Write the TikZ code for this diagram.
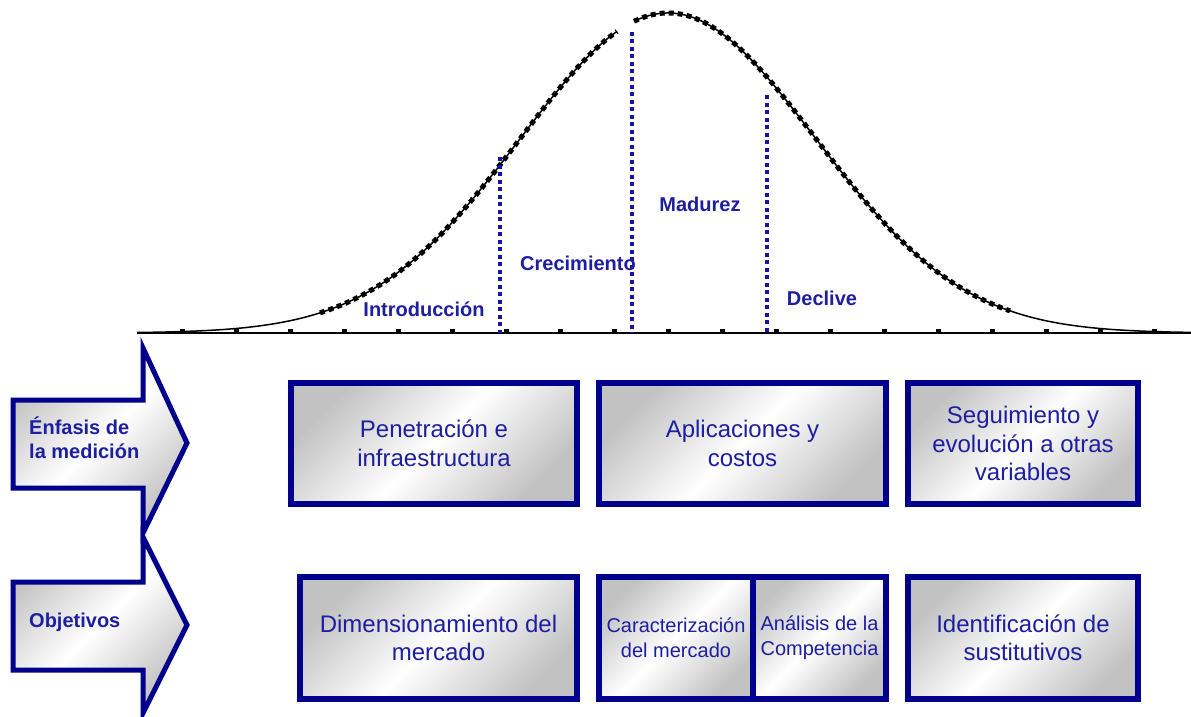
\documentclass[tikz,border=0pt]{standalone}
\usepackage{fontspec}
\setmainfont{Liberation Sans}
\usepackage{tikz}
\definecolor{navy}{RGB}{0,0,140}
\definecolor{txtblue}{RGB}{30,30,160}
\definecolor{dotblue}{RGB}{20,20,165}

\begin{document}
\begin{tikzpicture}[x=1pt,y=-1pt,
        declare function={bell(\x)=333-320*exp(-0.5*((\x-668)/148)^2);},
        curve/.style={black,line width=1.5},
        curvemarks/.style={black,line width=5,dash pattern=on 5pt off 4pt},
        phaseline/.style={dotblue,line width=3.5,dash pattern=on 4pt off 3.5pt},
        phase/.style={anchor=base,text=txtblue,font=\fontsize{20}{23}\selectfont\bfseries},
        shadefill/.style={top color=black!24,bottom color=black!24,middle color=white,shading angle=45},
        box/.style={draw=navy,line width=6,shadefill,text=txtblue,align=center,inner sep=0,
            font=\fontsize{24}{28.5}\selectfont},
        smallbox/.style={box,font=\fontsize{20}{25}\selectfont},
        arrowbox/.style={draw=navy,line width=5,line join=miter,shadefill},
        rowlabel/.style={anchor=base west,text=txtblue,align=left,inner sep=0,
            font=\fontsize{20}{23.5}\selectfont\bfseries}]
        \useasboundingbox (0,0) rectangle (1191,717);

        % life cycle curve
        \coordinate (o) at (137,333);
        \coordinate (xend) at (1191,333);
        \draw [black,line width=2] (o) -- (xend);
        \foreach \k in {0,...,18}
            \fill ({182+54*\k-2.5},328.5) rectangle ++(5,5);
        \draw [curve] plot[domain=137:617,samples=90] (\x,{bell(\x)});
        \draw [curve] plot[domain=634:1191,samples=110] (\x,{bell(\x)});
        \draw [curvemarks] plot[domain=320:617,samples=60] (\x,{bell(\x)});
        \draw [curvemarks] plot[domain=634:1010,samples=80] (\x,{bell(\x)});
        \draw [phaseline] (500,157) -- (500,333);
        \draw [phaseline] (632,32) -- (632,333);
        \draw [phaseline] (767,95) -- (767,333);
        \node [phase] (intro) at (424,316) {Introducción};
        \node [phase] (crec) at (578,270) {Crecimiento};
        \node [phase] (madurez) at (700,211) {Madurez};
        \node [phase] (declive) at (822,305) {Declive};

        % row arrows
        \draw [arrowbox] (13,400) -- (143,400) -- (143,348) -- (187,443) -- (143,533)
            -- (143,488) -- (13,488) -- cycle;
        \draw [arrowbox] (13,582) -- (143,582) -- (143,537) -- (187,625) -- (143,713)
            -- (143,670) -- (13,670) -- cycle;
        \node [rowlabel] (enfasis) at (29,458) {Énfasis de\\la medición};
        \node [rowlabel] (objetivos) at (29,627) {Objetivos};

        % boxes
        \node [box,minimum width=286,minimum height=121] (penetracion) at (434,443.5)
            {Penetración e\\infraestructura};
        \node [box,minimum width=287,minimum height=121] (aplicaciones) at (742.5,443.5)
            {Aplicaciones y\\costos};
        \node [box,minimum width=230,minimum height=121] (seguimiento) at (1023,443.5)
            {Seguimiento y\\evolución a otras\\variables};
        \node [box,minimum width=277,minimum height=122] (dimension) at (438.5,638)
            {Dimensionamiento del\\mercado};
        \node [smallbox,minimum width=154,minimum height=122] (caract) at (676,638)
            {Caracterización\\del mercado};
        \node [smallbox,minimum width=133,minimum height=122] (analisis) at (819.5,638)
            {Análisis de la\\Competencia};
        \node [box,minimum width=230,minimum height=122] (sustitutos) at (1023,638)
            {Identificación de\\sustitutivos};
    \end{tikzpicture}
\end{document}
